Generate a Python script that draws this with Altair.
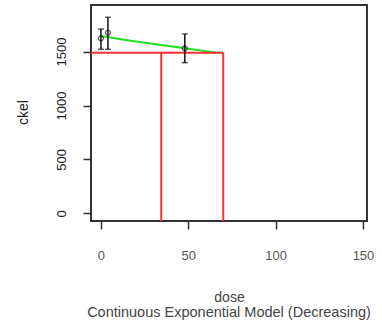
import altair as alt
import pandas as pd

# Observed group summaries (dose, mean response, CI bounds)
doses = [0, 4, 48]
means = [1623, 1675, 1530]
lower = [1521, 1521, 1397]
upper = [1709, 1818, 1663]

# Fitted exponential model curve
curve_dose = [0, 17, 45, 64, 70]
curve_resp = [1645, 1601, 1537, 1495, 1490]

# Benchmark dose results
bmr_level = 1490
bmdl = 34.5
bmd = 70

x_dom = [-5.7, 152.3]
y_dom = [-71, 1932]

font = "Liberation Sans"

obs = pd.DataFrame({"dose": doses, "mean": means, "lo": lower, "hi": upper})
curve = pd.DataFrame({"dose": curve_dose, "resp": curve_resp})
hline = pd.DataFrame({"x": [x_dom[0] - 5], "x2": [bmd], "y": [bmr_level]})
vlines = pd.DataFrame({"x": [bmdl, bmd], "y": [bmr_level, bmr_level], "y2": [y_dom[0], y_dom[0]]})

xs = alt.Scale(domain=x_dom, nice=False, zero=False)
ys = alt.Scale(domain=y_dom, nice=False, zero=False)

x_axis = alt.Axis(
    values=[0, 50, 100, 150], format="d", title="dose",
    tickSize=8, tickWidth=1.5, tickColor="#333", domain=False, grid=False,
    labelFontSize=13, labelColor="#555", labelBaseline="middle", labelPadding=26,
    labelFlush=False, labelFont=font,
    titleFont=font, titleFontSize=14, titleFontWeight="normal", titleColor="#444",
    titleBaseline="alphabetic", titleY=80, titleX=138,
)
y_axis = alt.Axis(
    values=[0, 500, 1000, 1500], format="d", title="ckel",
    tickSize=8, tickWidth=1.5, tickColor="#333", domain=False, grid=False,
    labelFontSize=13, labelColor="#222", labelAngle=270, labelAlign="center",
    labelBaseline="middle", labelPadding=22, labelFlush=False, labelFont=font,
    titleFont=font, titleFontSize=14, titleFontWeight="normal", titleColor="#222",
    titleAngle=270, titleBaseline="alphabetic", titleX=-64, titleY=107,
)

base_obs = alt.Chart(obs)

green = alt.Chart(curve).mark_line(color="#22dd22", strokeWidth=2, clip=True).encode(
    x=alt.X("dose:Q", scale=xs, axis=x_axis),
    y=alt.Y("resp:Q", scale=ys, axis=y_axis),
)

red_h = alt.Chart(hline).mark_rule(color="#ff3030", strokeWidth=2, clip=True).encode(
    x=alt.X("x:Q", scale=xs), x2="x2:Q", y=alt.Y("y:Q", scale=ys)
)
red_v = alt.Chart(vlines).mark_rule(color="#ff3030", strokeWidth=2, clip=True).encode(
    x=alt.X("x:Q", scale=xs), y=alt.Y("y:Q", scale=ys), y2="y2:Q"
)

bars = base_obs.mark_rule(color="#111", strokeWidth=1.5).encode(
    x=alt.X("dose:Q", scale=xs), y=alt.Y("lo:Q", scale=ys), y2="hi:Q"
)
cap_lo = base_obs.mark_tick(color="#111", orient="horizontal", size=6, thickness=1.5).encode(
    x=alt.X("dose:Q", scale=xs), y=alt.Y("lo:Q", scale=ys)
)
cap_hi = base_obs.mark_tick(color="#111", orient="horizontal", size=6, thickness=1.5).encode(
    x=alt.X("dose:Q", scale=xs), y=alt.Y("hi:Q", scale=ys)
)
pts = base_obs.mark_point(shape="circle", filled=False, color="#111", size=24, strokeWidth=1.2).encode(
    x=alt.X("dose:Q", scale=xs), y=alt.Y("mean:Q", scale=ys)
)

chart = alt.layer(green, red_h, red_v, bars, cap_lo, cap_hi, pts).properties(
    width=276, height=216,
    autosize=alt.AutoSizeParams(type="none"),
    padding={"left": 91, "top": 5, "right": 15, "bottom": 106},
    background="white",
    title=alt.TitleParams(
        "Continuous Exponential Model (Decreasing)", orient="bottom", anchor="middle",
        font=font, fontSize=14.5, fontWeight="normal", color="#444",
        baseline="top", offset=2,
    ),
).configure_view(stroke="#333", strokeWidth=2)

chart.save("out.html", embed_options={"renderer": "svg", "actions": False})
